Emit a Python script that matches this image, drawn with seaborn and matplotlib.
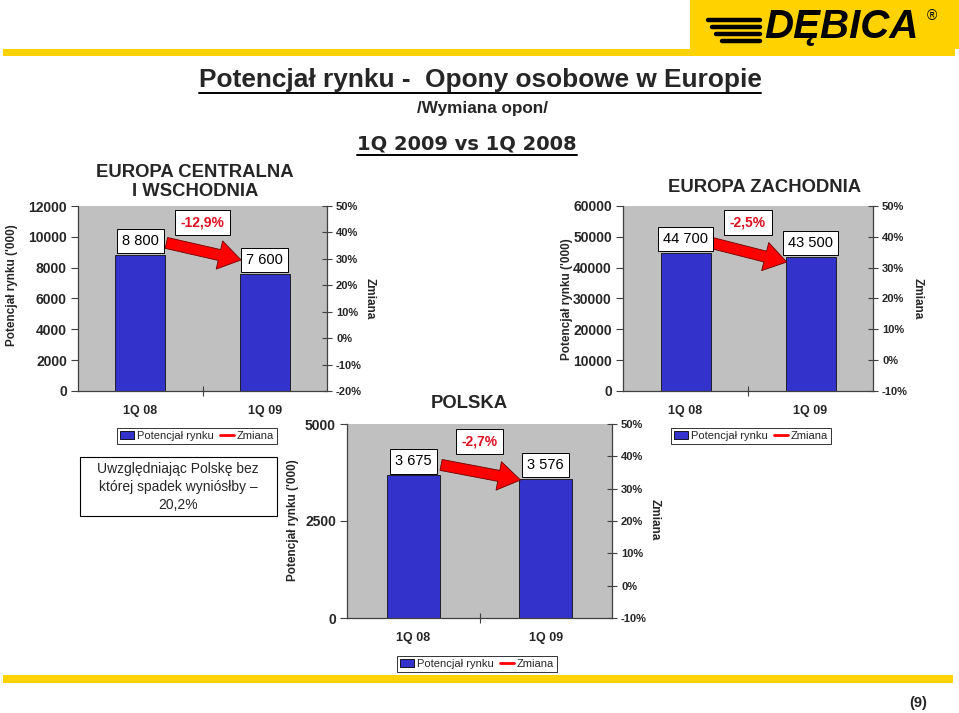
import matplotlib
matplotlib.use("Agg")
import matplotlib.pyplot as plt
import seaborn as sns
import pandas as pd
from matplotlib.patches import Rectangle, Patch
from matplotlib.lines import Line2D

sns.set_theme(style="white")
plt.rcParams['font.family'] = ['Liberation Sans', 'DejaVu Sans']

# ---------------- data ----------------
periods = ["1Q 08", "1Q 09"]

ce_values = [8800, 7600]
ce_labels = ["8 800", "7 600"]
ce_change = "-12,9%"
ce_left_ticks = [0, 2000, 4000, 6000, 8000, 10000, 12000]
ce_right_ticks = [-20, -10, 0, 10, 20, 30, 40, 50]

we_values = [44700, 43500]
we_labels = ["44 700", "43 500"]
we_change = "-2,5%"
we_left_ticks = [0, 10000, 20000, 30000, 40000, 50000, 60000]
we_right_ticks = [-10, 0, 10, 20, 30, 40, 50]

pl_values = [3675, 3576]
pl_labels = ["3 675", "3 576"]
pl_change = "-2,7%"
pl_left_ticks = [0, 2500, 5000]
pl_right_ticks = [-10, 0, 10, 20, 30, 40, 50]

series_names = ["Potencjał rynku", "Zmiana"]
left_axis_title = "Potencjał rynku ('000)"
right_axis_title = "Zmiana"

# ---------------- style ----------------
W, H = 959, 713
BLUE = "#3333CC"
GRAY = "#C0C0C0"
RED = "#FF0000"
RED_TXT = "#DD1122"
YELLOW = "#FFD200"
AXC = "#404040"

fig = plt.figure(figsize=(W / 100, H / 100), dpi=100)
fig.patch.set_facecolor("white")


def fx(x):
    return x / W


def fy(y):
    return 1 - y / H


def px_axes(l, t, r, b):
    return fig.add_axes([l / W, 1 - b / H, (r - l) / W, (b - t) / H])


def draw_chart(rect, values, labels, change, lticks, rticks, arrow_dy,
               legend_xy, ylab_xy, zlab_xy, title, title_xy):
    ax = px_axes(*rect)
    df = pd.DataFrame({"Okres": periods, series_names[0]: values})
    sns.barplot(data=df, x="Okres", y=series_names[0], ax=ax, color=BLUE,
                saturation=1, width=0.4, edgecolor="#101010", linewidth=0.6)
    ax.set_facecolor(GRAY)
    ax.set_xlim(-0.5, 1.5)
    ymax = lticks[-1]
    ax.set_ylim(lticks[0], ymax)
    ax.set_yticks(lticks)
    ax.set_yticklabels([str(t) for t in lticks], fontsize=10, fontweight="bold")
    ax.set_xticks([0, 1])
    ax.set_xticklabels(periods, fontsize=9, fontweight="bold")
    ax.set_xticks([0.5], minor=True)
    ax.tick_params(axis="x", which="major", bottom=False, pad=4)
    ax.tick_params(axis="x", which="minor", bottom=True, length=7,
                   direction="inout", width=0.8, color=AXC)
    ax.tick_params(axis="y", left=True, length=5, direction="out",
                   width=0.8, color=AXC, pad=3)
    ax.set_xlabel("")
    ax.set_ylabel("")
    for s in ["top", "right"]:
        ax.spines[s].set_visible(False)
    for s in ["left", "bottom"]:
        ax.spines[s].set_color(AXC)
        ax.spines[s].set_linewidth(0.9)

    ax2 = ax.twinx()
    ax2.set_ylim(rticks[0], rticks[-1])
    ax2.set_yticks(rticks)
    ax2.set_yticklabels([f"{t}%" for t in rticks], fontsize=8,
                        fontweight="bold")
    ax2.tick_params(axis="y", right=True, length=7, direction="inout",
                    width=0.8, color=AXC, pad=3)
    for s in ["top", "left", "bottom"]:
        ax2.spines[s].set_visible(False)
    ax2.spines["right"].set_color(AXC)
    ax2.spines["right"].set_linewidth(0.9)
    ax2.grid(False)
    ax.grid(False)

    # value boxes
    for i, (v, lab) in enumerate(zip(values, labels)):
        ax.annotate(lab, xy=(i, v), xytext=(0, 5), textcoords="offset points",
                    ha="center", va="bottom", fontsize=10.5, color="black",
                    bbox=dict(boxstyle="square,pad=0.35", fc="white",
                              ec="black", lw=0.7), zorder=6)
    # change arrow
    ax.annotate("", xy=(0.81, values[1] + arrow_dy[1] * ymax),
                xytext=(0.21, values[0] + arrow_dy[0] * ymax),
                arrowprops=dict(arrowstyle="simple,head_length=1.0,head_width=1.3,tail_width=0.5",
                                fc=RED, ec="#700000", lw=0.6,
                                mutation_scale=16, shrinkA=0, shrinkB=0),
                zorder=5)
    ax.text(0.5, 0.91, change, transform=ax.transAxes, ha="center",
            va="center", fontsize=10, fontweight="bold", color=RED_TXT,
            bbox=dict(boxstyle="square,pad=0.4", fc="white", ec="black",
                      lw=0.7), zorder=6)

    # axis titles
    fig.text(fx(ylab_xy[0]), fy(ylab_xy[1]), left_axis_title, rotation=90,
             ha="center", va="center", fontsize=8.5, fontweight="bold")
    fig.text(fx(zlab_xy[0]), fy(zlab_xy[1]), right_axis_title, rotation=270,
             ha="center", va="center", fontsize=8.5, fontweight="bold")

    # chart title
    fig.text(fx(title_xy[0]), fy(title_xy[1]), title, ha="center",
             va="center", fontsize=13.3, fontweight="bold", linespacing=1.2)

    # legend
    handles = [Patch(fc=BLUE, ec="black", lw=0.6),
               Line2D([], [], color=RED, lw=2)]
    leg = fig.legend(handles, series_names, loc="center",
                     bbox_to_anchor=(fx(legend_xy[0]), fy(legend_xy[1])),
                     ncol=2, fontsize=8, frameon=True, fancybox=False,
                     edgecolor="black", handlelength=1.3, handleheight=0.7,
                     columnspacing=0.5, handletextpad=0.25, borderpad=0.3,
                     borderaxespad=0)
    leg.get_frame().set_linewidth(0.7)
    return ax


# ---------------- decorations ----------------
fig.add_artist(Rectangle((fx(690), fy(49)), 1 - fx(690), 49 / H,
                         transform=fig.transFigure, fc=YELLOW, ec="none",
                         zorder=0))
fig.add_artist(Rectangle((fx(3), fy(56)), fx(952), 7 / H,
                         transform=fig.transFigure, fc=YELLOW, ec="none",
                         zorder=0))
fig.add_artist(Rectangle((fx(3), fy(683)), fx(950), 8 / H,
                         transform=fig.transFigure, fc=YELLOW, ec="none",
                         zorder=0))
# logo
for yy, x0 in [(20, 708), (27, 712), (34, 716), (41, 722)]:
    fig.add_artist(Line2D([fx(x0), fx(760)], [fy(yy), fy(yy)], color="black",
                          lw=3.2, transform=fig.transFigure))
fig.text(fx(842), fy(27), "DĘBICA", ha="center", va="center", fontsize=29,
         fontweight="bold", fontstyle="italic", color="black")
fig.text(fx(932), fy(16), "®", ha="center", va="center", fontsize=10,
         color="black")

t1 = fig.text(fx(480), fy(80), "Potencjał rynku -  Opony osobowe w Europie",
              ha="center", va="center", fontsize=18.9, fontweight="bold")
fig.text(fx(482), fy(108), "/Wymiana opon/", ha="center", va="center",
         fontsize=12.3, fontweight="bold")
t2 = fig.text(fx(467), fy(144), "1Q 2009 vs 1Q 2008", ha="center",
              va="center", fontsize=14, fontweight="bold",
              family=["DejaVu Sans"])

draw_chart((78, 206, 327, 391), ce_values, ce_labels, ce_change,
           ce_left_ticks, ce_right_ticks, (0.067, 0.075), (197, 436),
           (12, 285), (370, 299), "EUROPA CENTRALNA\nI WSCHODNIA", (195, 182))
draw_chart((623, 206, 873, 391), we_values, we_labels, we_change,
           we_left_ticks, we_right_ticks, (0.055, -0.028), (751, 436),
           (567, 299), (918, 299), "EUROPA ZACHODNIA", (765, 187))
draw_chart((347, 424, 612, 618), pl_values, pl_labels, pl_change,
           pl_left_ticks, pl_right_ticks, (0.054, -0.004), (477, 664),
           (293, 520), (655, 520), "POLSKA", (469, 404))

# note box
fig.add_artist(Rectangle((fx(80), fy(516)), fx(197), 59 / H,
                         transform=fig.transFigure, fc="white", ec="black",
                         lw=0.8))
fig.text(fx(178), fy(487), "Uwzględniając Polskę bez\nktórej spadek wyniósłby –\n20,2%",
         ha="center", va="center", fontsize=10, linespacing=1.35)

fig.text(fx(918), fy(703), "(9)", ha="center", va="center", fontsize=10.5,
         fontweight="bold")

# underlines for main titles
fig.canvas.draw()
for t in (t1, t2):
    bb = t.get_window_extent()
    y = bb.y0 - 1
    fig.add_artist(Line2D([bb.x0 / W, bb.x1 / W], [y / H, y / H],
                          color="black", lw=1.4, transform=fig.transFigure))

fig.savefig("out.png", dpi=100)
